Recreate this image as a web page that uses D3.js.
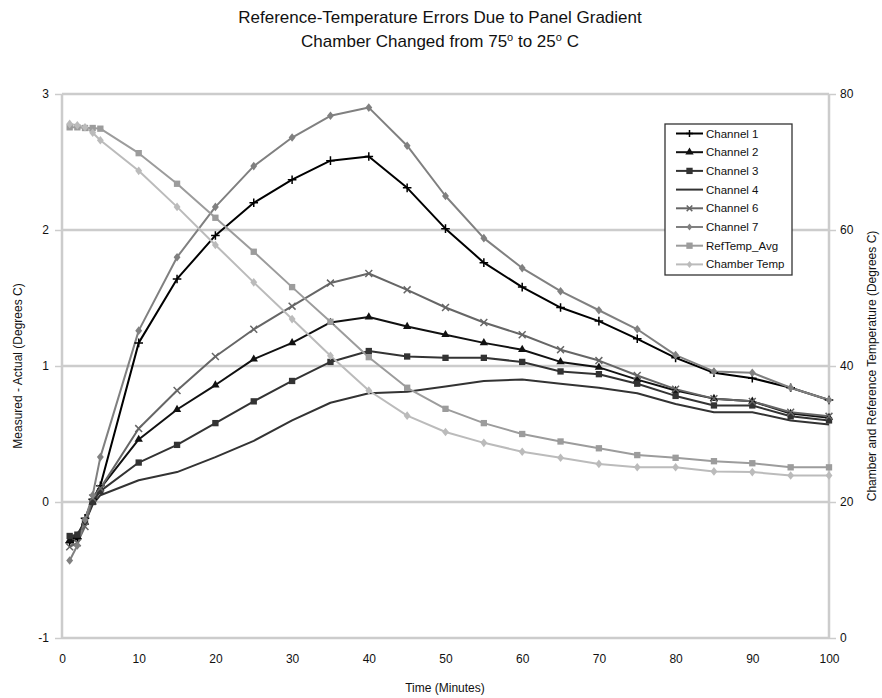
<!DOCTYPE html>
<html>
<head>
<meta charset="utf-8">
<script src="https://cdn.jsdelivr.net/npm/d3@7"></script>
<style>
  body { margin: 0; background: #fff; }
  svg text { font-family: "Liberation Sans", Arial, sans-serif; fill: #111; }
</style>
</head>
<body>
<svg id="chart" width="882" height="698"></svg>
<script>
// time points (minutes)
const minutes = [1, 2, 3, 4, 5, 10, 15, 20, 25, 30, 35, 40, 45, 50, 55, 60, 65, 70, 75, 80, 85, 90, 95, 100];

// error series, left axis (Measured - Actual, deg C)
const channel1 = [-0.30, -0.27, -0.12, 0.02, 0.12, 1.17, 1.64, 1.96, 2.20, 2.37, 2.51, 2.54, 2.31, 2.01, 1.76, 1.58, 1.43, 1.33, 1.20, 1.06, 0.95, 0.91, 0.84, 0.75];
const channel2 = [-0.28, -0.25, -0.15, 0.00, 0.10, 0.46, 0.68, 0.86, 1.05, 1.17, 1.32, 1.36, 1.29, 1.23, 1.17, 1.12, 1.03, 0.99, 0.90, 0.82, 0.76, 0.74, 0.65, 0.62];
const channel3 = [-0.25, -0.24, -0.14, 0.00, 0.08, 0.29, 0.42, 0.58, 0.74, 0.89, 1.03, 1.11, 1.07, 1.06, 1.06, 1.03, 0.96, 0.94, 0.87, 0.78, 0.71, 0.71, 0.63, 0.60];
const channel4 = [-0.27, -0.24, -0.15, -0.02, 0.05, 0.16, 0.22, 0.33, 0.45, 0.60, 0.73, 0.80, 0.81, 0.85, 0.89, 0.90, 0.87, 0.84, 0.80, 0.72, 0.66, 0.66, 0.60, 0.57];
const channel6 = [-0.33, -0.30, -0.18, 0.03, 0.10, 0.54, 0.82, 1.07, 1.27, 1.44, 1.61, 1.68, 1.56, 1.43, 1.32, 1.23, 1.12, 1.04, 0.93, 0.83, 0.76, 0.74, 0.66, 0.63];
const channel7 = [-0.43, -0.32, -0.13, 0.05, 0.33, 1.26, 1.80, 2.17, 2.47, 2.68, 2.84, 2.90, 2.62, 2.25, 1.94, 1.72, 1.55, 1.41, 1.27, 1.08, 0.96, 0.95, 0.84, 0.75];

// temperature series, right axis (deg C)
const refTempAvg = [75.1, 75.1, 75.0, 75.0, 74.9, 71.3, 66.8, 61.8, 56.8, 51.6, 46.5, 41.3, 36.8, 33.7, 31.6, 30.0, 28.9, 27.9, 26.9, 26.5, 26.0, 25.7, 25.1, 25.1];
const chamberTemp = [75.6, 75.4, 75.1, 74.3, 73.2, 68.7, 63.4, 57.8, 52.3, 46.9, 41.5, 36.4, 32.7, 30.3, 28.7, 27.4, 26.5, 25.6, 25.1, 25.1, 24.5, 24.4, 23.9, 23.9];

const xTicks = [0, 10, 20, 30, 40, 50, 60, 70, 80, 90, 100];
const yLeftTicks = [-1, 0, 1, 2, 3];
const yRightTicks = [0, 20, 40, 60, 80];

const series = [
  { name: "Channel 1", values: channel1, axis: "L", color: "#000000", marker: "plus" },
  { name: "Channel 2", values: channel2, axis: "L", color: "#111111", marker: "triangle" },
  { name: "Channel 3", values: channel3, axis: "L", color: "#333333", marker: "square" },
  { name: "Channel 4", values: channel4, axis: "L", color: "#333333", marker: "none" },
  { name: "Channel 6", values: channel6, axis: "L", color: "#666666", marker: "cross" },
  { name: "Channel 7", values: channel7, axis: "L", color: "#808080", marker: "diamond" },
  { name: "RefTemp_Avg", values: refTempAvg, axis: "R", color: "#9c9c9c", marker: "square" },
  { name: "Chamber Temp", values: chamberTemp, axis: "R", color: "#bbbbbb", marker: "diamond" }
];

const pLeft = 62, pRight = 829, pTop = 94, pBottom = 638;
const svg = d3.select("#chart");

const x = d3.scaleLinear().domain([0, 100]).range([pLeft, pRight]);
const yL = d3.scaleLinear().domain([-1, 3]).range([pBottom, pTop]);
const yR = d3.scaleLinear().domain([0, 80]).range([pBottom, pTop]);

// gridlines
svg.append("g").selectAll("line").data(yLeftTicks).join("line")
  .attr("x1", pLeft).attr("x2", pRight)
  .attr("y1", d => yL(d)).attr("y2", d => yL(d))
  .attr("stroke", "#cccccc").attr("stroke-width", 2.5);

// plot side borders
svg.append("line").attr("x1", pLeft).attr("x2", pLeft).attr("y1", pTop).attr("y2", pBottom)
  .attr("stroke", "#cccccc").attr("stroke-width", 2.5);
svg.append("line").attr("x1", pRight).attr("x2", pRight).attr("y1", pTop).attr("y2", pBottom)
  .attr("stroke", "#cccccc").attr("stroke-width", 2.5);

// axes (plain hyphen for negatives, like the original)
const axisL = d3.axisLeft(yL).tickValues(yLeftTicks).tickSize(7).tickPadding(6).tickFormat(d => String(d));
const gL = svg.append("g").attr("transform", `translate(${pLeft},0)`).call(axisL);
gL.select(".domain").remove();
gL.selectAll(".tick line").attr("stroke", "#cccccc").attr("stroke-width", 1.5);
gL.selectAll("text").style("font-size", "12px");

const axisR = d3.axisRight(yR).tickValues(yRightTicks).tickSize(7).tickPadding(4);
const gR = svg.append("g").attr("transform", `translate(${pRight},0)`).call(axisR);
gR.select(".domain").remove();
gR.selectAll(".tick line").attr("stroke", "#cccccc").attr("stroke-width", 1.5);
gR.selectAll("text").style("font-size", "12px");

const axisX = d3.axisBottom(x).tickValues(xTicks).tickSize(0).tickPadding(16);
const gX = svg.append("g").attr("transform", `translate(0,${pBottom})`).call(axisX);
gX.select(".domain").remove();
gX.selectAll("text").style("font-size", "12px");

// lines
series.forEach(s => {
  const yS = s.axis === "L" ? yL : yR;
  const line = d3.line().x((d, i) => x(minutes[i])).y(d => yS(d));
  svg.append("path").datum(s.values)
    .attr("fill", "none").attr("stroke", s.color).attr("stroke-width", 2)
    .attr("stroke-linejoin", "round").attr("d", line);
});

// markers
function drawMarker(g, type, color, size) {
  if (type === "plus") {
    g.append("path").attr("d", `M${-size},0H${size}M0,${-size}V${size}`)
      .attr("stroke", color).attr("stroke-width", 1.5);
  } else if (type === "cross") {
    g.append("path").attr("d", `M${-size * 0.8},${-size * 0.8}L${size * 0.8},${size * 0.8}M${-size * 0.8},${size * 0.8}L${size * 0.8},${-size * 0.8}`)
      .attr("stroke", color).attr("stroke-width", 1.5);
  } else if (type === "triangle") {
    g.append("path").attr("d", d3.symbol(d3.symbolTriangle, 30)()).attr("fill", color);
  } else if (type === "square") {
    g.append("path").attr("d", d3.symbol(d3.symbolSquare, 40)()).attr("fill", color);
  } else if (type === "diamond") {
    g.append("path").attr("d", `M0,${-size}L${size * 0.8},0L0,${size}L${-size * 0.8},0Z`).attr("fill", color);
  }
}

series.forEach(s => {
  if (s.marker === "none") return;
  const yS = s.axis === "L" ? yL : yR;
  const g = svg.append("g");
  s.values.forEach((v, i) => {
    const m = g.append("g").attr("transform", `translate(${x(minutes[i])},${yS(v)})`);
    drawMarker(m, s.marker, s.color, 4.3);
  });
});

// legend
const lg = svg.append("g").attr("transform", "translate(665,124)");
lg.append("rect").attr("width", 127).attr("height", 151)
  .attr("fill", "#fff").attr("stroke", "#333").attr("stroke-width", 1.3);
series.forEach((s, i) => {
  const yy = 9.5 + i * 18.7;
  const row = lg.append("g").attr("transform", `translate(0,${yy})`);
  row.append("line").attr("x1", 11).attr("x2", 38).attr("y1", 0).attr("y2", 0)
    .attr("stroke", s.color).attr("stroke-width", 2);
  const m = row.append("g").attr("transform", "translate(24.5,0)");
  drawMarker(m, s.marker, s.color, 3.5);
  row.append("text").attr("x", 41).attr("y", 4).style("font-size", "11.5px").text(s.name);
});

// titles
const title = svg.append("text").attr("x", 440).attr("text-anchor", "middle")
  .style("font-size", "17px");
title.append("tspan").attr("x", 440).attr("y", 23).text("Reference-Temperature Errors Due to Panel Gradient");
const t2 = title.append("tspan").attr("x", 440).attr("y", 47);
t2.append("tspan").text("Chamber Changed from 75");
t2.append("tspan").attr("dy", -6).style("font-size", "11px").text("o");
t2.append("tspan").attr("dy", 6).text(" to 25");
t2.append("tspan").attr("dy", -6).style("font-size", "11px").text("o");
t2.append("tspan").attr("dy", 6).text(" C");

svg.append("text").attr("x", 445).attr("y", 692).attr("text-anchor", "middle")
  .style("font-size", "12px").text("Time (Minutes)");

svg.append("text").attr("transform", `translate(22,${(pTop + pBottom) / 2}) rotate(-90)`)
  .attr("text-anchor", "middle").style("font-size", "12px").text("Measured - Actual (Degrees C)");

svg.append("text").attr("transform", `translate(876,${(pTop + pBottom) / 2}) rotate(-90)`)
  .attr("text-anchor", "middle").style("font-size", "12px").text("Chamber and Reference Temperature (Degrees C)");
</script>
</body>
</html>
